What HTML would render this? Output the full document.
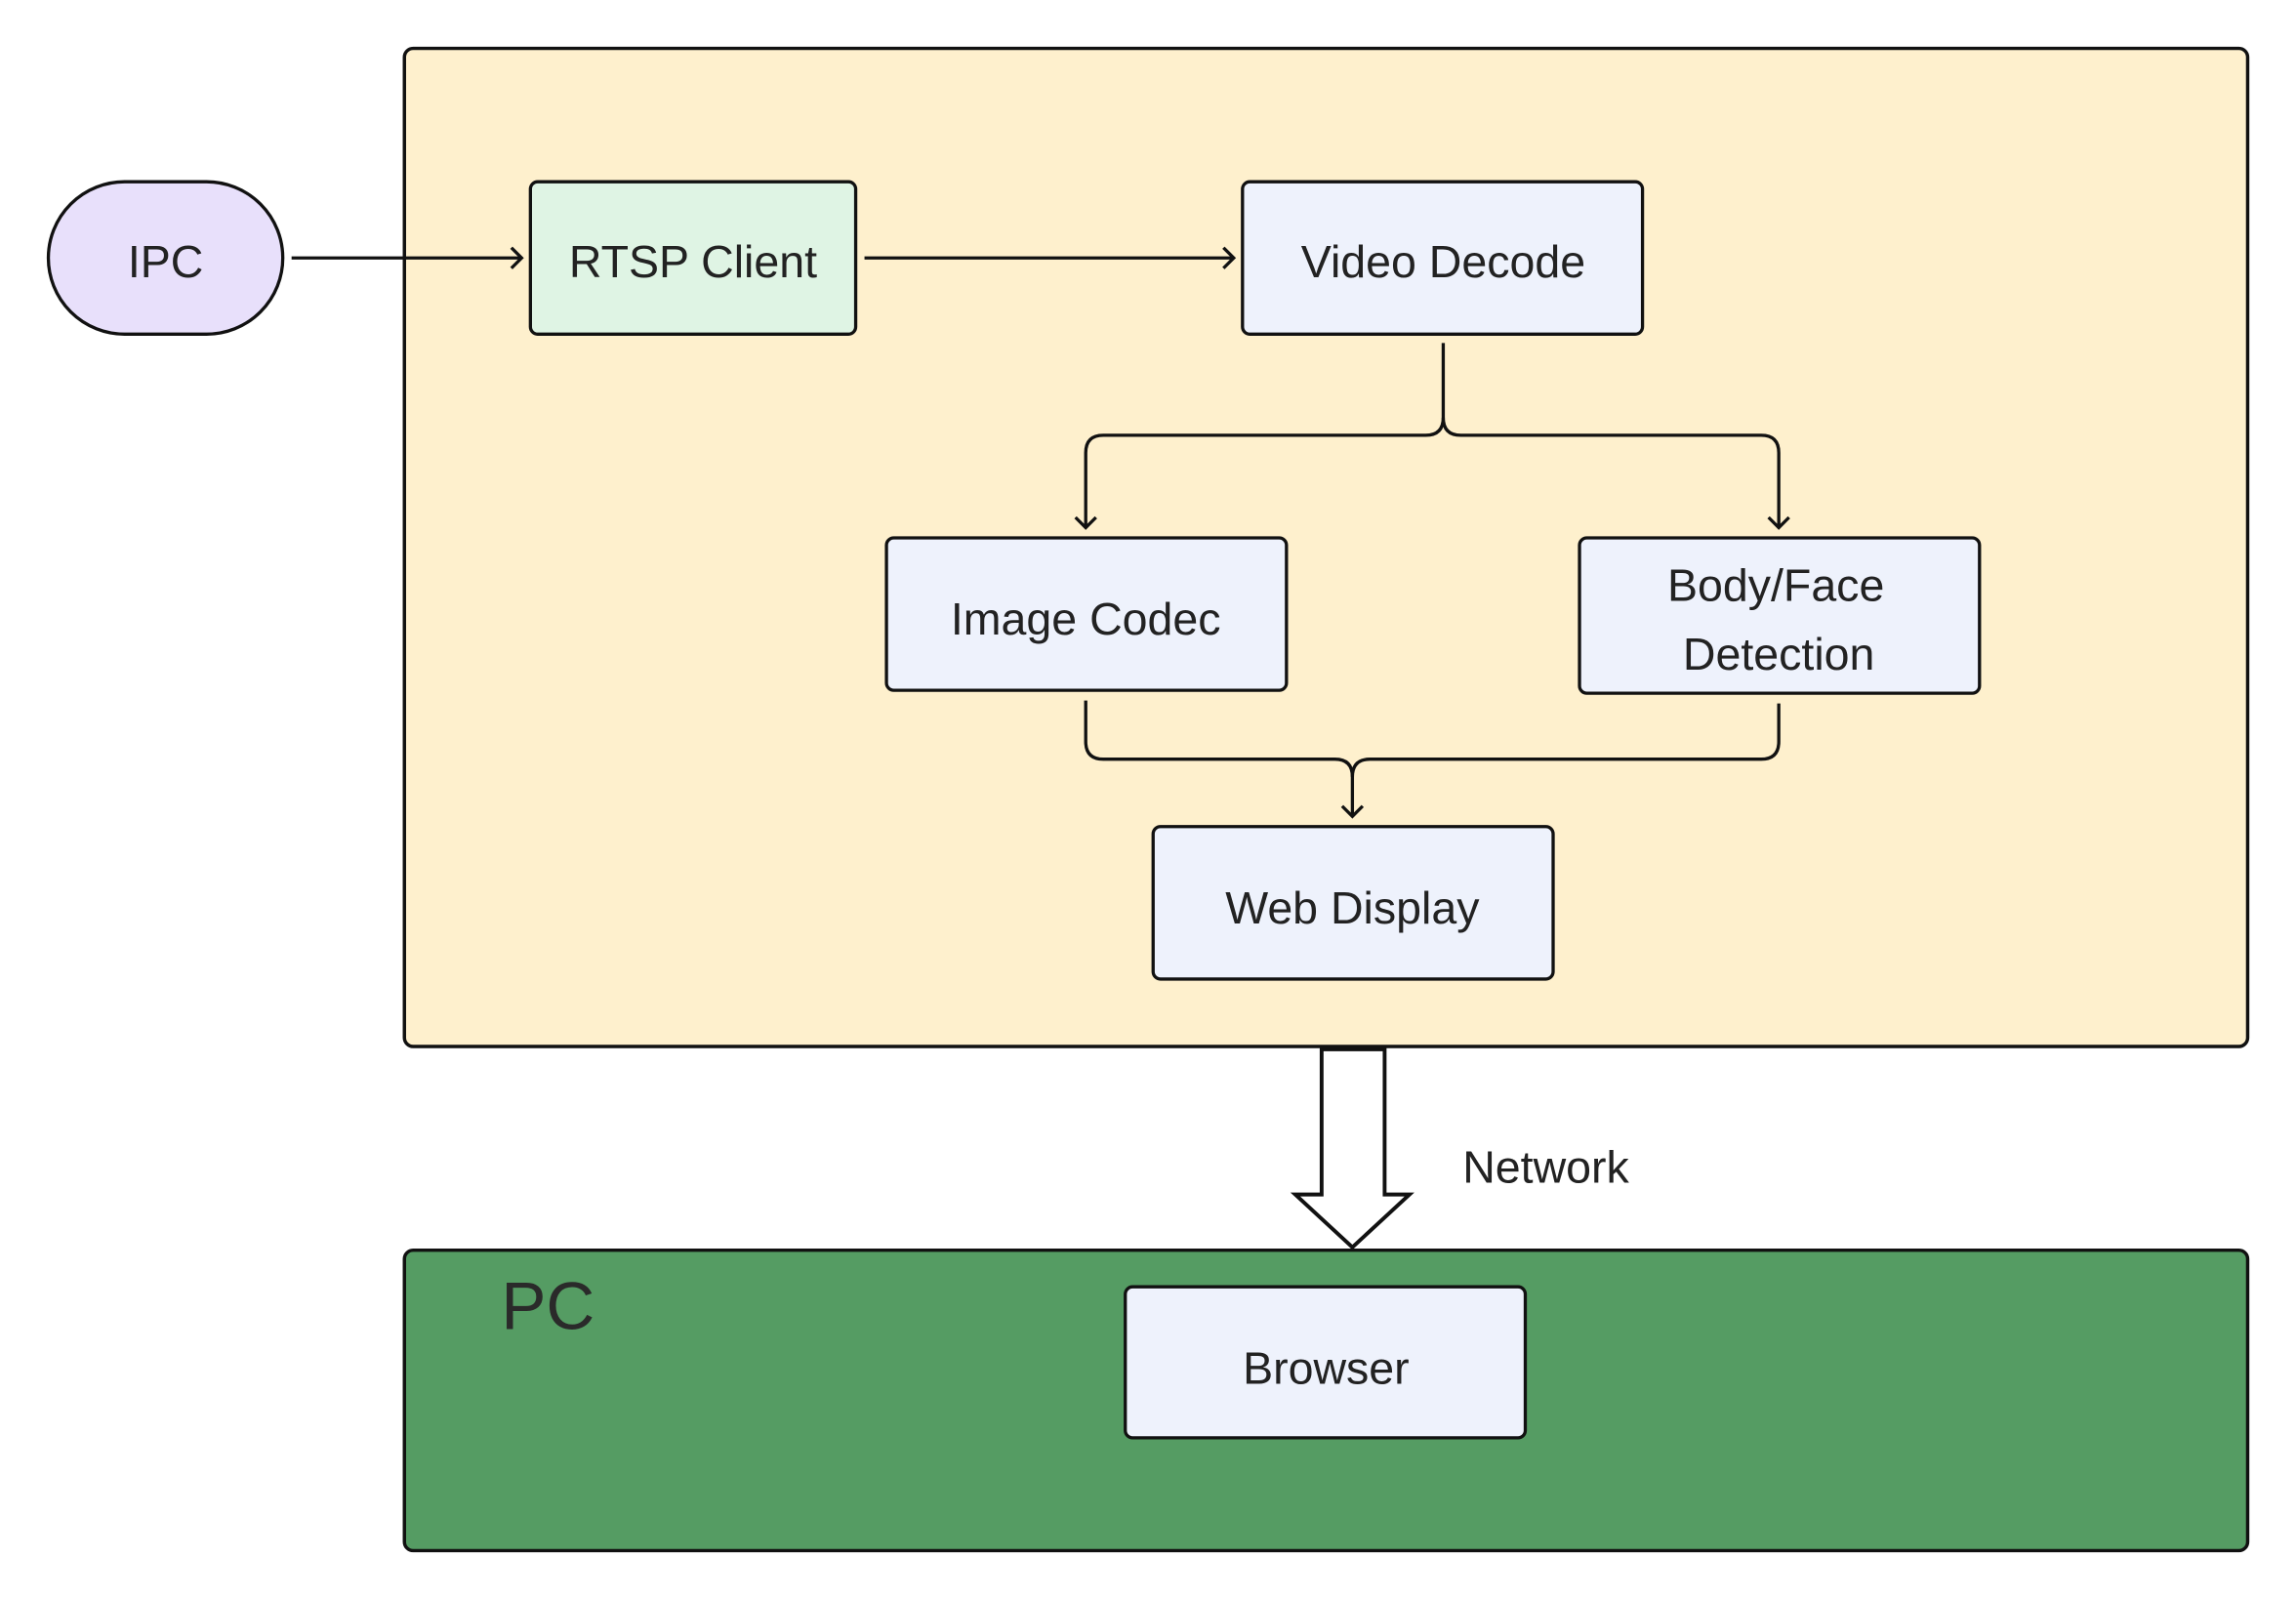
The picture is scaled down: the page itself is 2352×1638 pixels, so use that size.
<!DOCTYPE html>
<html><head><meta charset="utf-8"><style>html,body{margin:0;padding:0;background:#fff}svg{display:block}</style></head>
<body>
<svg width="2352" height="1638" viewBox="0 0 1567 1091" preserveAspectRatio="none" xmlns="http://www.w3.org/2000/svg" font-family="'Liberation Sans', sans-serif">
<rect x="0" y="0" width="1567" height="1091" fill="#fff"/>
<rect x="276" y="33" width="1258" height="681" rx="6" fill="#fef0cd" stroke="#111" stroke-width="2.3"/>
<rect x="276" y="853" width="1258" height="205" rx="6" fill="#559c63" stroke="#111" stroke-width="2.3"/>
<g stroke="#111" stroke-width="2.2" fill="none">
<path d="M199 176 H356"/><path d="M349 169 L356 176 L349 183"/>
<path d="M590 176 H842"/><path d="M835 169 L842 176 L835 183"/>
<path d="M985 234 V285 Q985 297 973 297 H753 Q741 297 741 309 V360"/>
<path d="M985 285 Q985 297 997 297 H1202 Q1214 297 1214 309 V360"/>
<path d="M734 353 L741 360 L748 353"/><path d="M1207 353 L1214 360 L1221 353"/>
<path d="M741 478 V506 Q741 518 753 518 H911 Q923 518 923 530 V557"/>
<path d="M1214 480 V506 Q1214 518 1202 518 H935 Q923 518 923 530"/>
<path d="M916 550 L923 557 L930 550"/>
</g>
<path d="M902 716 H945 V815 H962 L923 851 L884 815 H902 Z" fill="#fff" stroke="#111" stroke-width="2.6" stroke-linejoin="miter"/>
<rect x="33" y="124" width="160" height="104" rx="52" fill="#e8e0fb" stroke="#111" stroke-width="2.2"/>
<rect x="362" y="124" width="222" height="104" rx="5" fill="#dff4e4" stroke="#111" stroke-width="2.2"/>
<rect x="848" y="124" width="273" height="104" rx="5" fill="#eef2fc" stroke="#111" stroke-width="2.2"/>
<rect x="605" y="367" width="273" height="104" rx="5" fill="#eef2fc" stroke="#111" stroke-width="2.2"/>
<rect x="1078" y="367" width="273" height="106" rx="5" fill="#eef2fc" stroke="#111" stroke-width="2.2"/>
<rect x="787" y="564" width="273" height="104" rx="5" fill="#eef2fc" stroke="#111" stroke-width="2.2"/>
<rect x="768" y="878" width="273" height="103" rx="5" fill="#eef2fc" stroke="#111" stroke-width="2.2"/>
<g fill="#222" font-size="31" text-anchor="middle">
<text x="113" y="189">IPC</text>
<text x="473" y="189">RTSP Client</text>
<text x="985" y="189">Video Decode</text>
<text x="741" y="433">Image Codec</text>
<text x="1212" y="410">Body/Face</text>
<text x="1214" y="457">Detection</text>
<text x="923" y="630">Web Display</text>
<text x="905" y="944">Browser</text>
<text x="1055" y="807">Network</text>
</g>
<text x="342" y="907" fill="#2a2a2a" font-size="46">PC</text>
</svg>
</body></html>
